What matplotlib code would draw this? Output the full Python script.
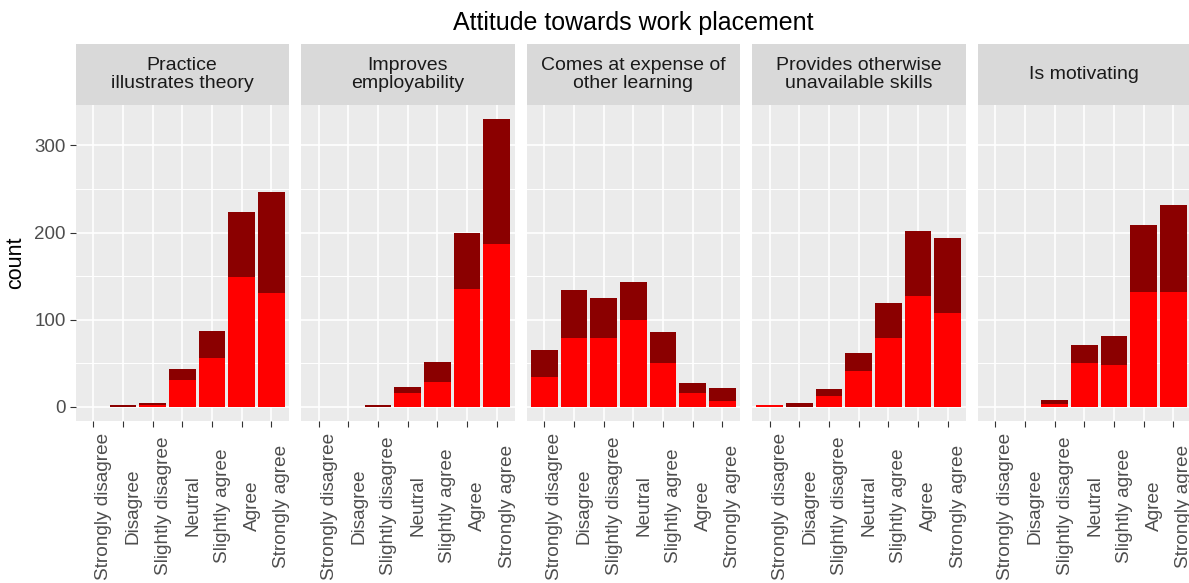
import numpy as np
import matplotlib.pyplot as plt
from matplotlib import transforms

plt.rcParams['font.family'] = ['Liberation Sans', 'DejaVu Sans']

categories = ["Strongly disagree", "Disagree", "Slightly disagree", "Neutral",
              "Slightly agree", "Agree", "Strongly agree"]
facets = ["Practice\nillustrates theory", "Improves\nemployability",
          "Comes at expense of\nother learning", "Provides otherwise\nunavailable skills",
          "Is motivating"]

# lower (red) part of each stacked bar
red_counts = [
    [0, 0, 2, 31, 56, 149, 131],
    [0, 0, 0, 16, 28, 135, 187],
    [34, 79, 79, 100, 50, 16, 6],
    [2, 0, 12, 41, 79, 127, 107],
    [0, 0, 3, 50, 48, 132, 132],
]
# upper (dark red) part of each stacked bar
darkred_counts = [
    [0, 2, 2, 12, 31, 75, 115],
    [0, 0, 2, 6, 23, 65, 143],
    [31, 55, 46, 43, 36, 11, 15],
    [0, 4, 8, 21, 40, 75, 87],
    [0, 0, 5, 21, 33, 77, 100],
]

W, H = 1189, 583
fig = plt.figure(figsize=(W / 100, H / 100), dpi=100)

panel_left0 = 75.5
panel_step = 225.5
panel_w = 213.5
strip_top, strip_bot, panel_bot = 44, 105, 421

tot_max = max(np.max(np.array(r) + np.array(d)) for r, d in zip(red_counts, darkred_counts))
ylim = (-0.05 * tot_max, 1.05 * tot_max)
x = np.arange(len(categories))

for k, name in enumerate(facets):
    left = panel_left0 + k * panel_step
    ax = fig.add_axes([left / W, 1 - panel_bot / H, panel_w / W, (panel_bot - strip_bot) / H])
    ax.set_facecolor('#EBEBEB')
    for s in ax.spines.values():
        s.set_visible(False)

    red = np.array(red_counts[k])
    dark = np.array(darkred_counts[k])
    ax.bar(x, red, width=0.9, color='#FF0000', zorder=3)
    ax.bar(x, dark, bottom=red, width=0.9, color='#8B0000', zorder=3)

    ax.set_xlim(-0.6, len(categories) - 0.4)
    ax.set_ylim(*ylim)
    ax.set_yticks([0, 100, 200, 300])
    ax.set_yticks([50, 150, 250], minor=True)
    ax.set_xticks(x)
    ax.set_xticklabels([])
    ax.grid(which='major', color='white', linewidth=1.2, zorder=0)
    ax.grid(which='minor', axis='y', color='white', linewidth=0.7, zorder=0)
    ax.set_axisbelow(True)
    ax.tick_params(axis='x', length=4, width=0.8, color='#333333')
    ax.tick_params(axis='y', which='minor', length=0)
    if k == 0:
        ax.tick_params(axis='y', length=4, width=0.8, color='#333333',
                       labelsize=13.5, labelcolor='#4D4D4D', pad=3)
        ax.set_ylabel('count', fontsize=15.5, color='black', labelpad=6)
    else:
        ax.tick_params(axis='y', length=0, labelleft=False)

    # rotated category labels, left edge on the tick, centred on a common line
    trans = transforms.blended_transform_factory(ax.transData, fig.transFigure)
    trans = trans + transforms.ScaledTranslation(2 / 100, 0, fig.dpi_scale_trans)
    for xi, lab in zip(x, categories):
        ax.text(xi, 1 - 506 / H, lab, transform=trans, rotation=90,
                ha='left', va='center', fontsize=13.7, color='#4D4D4D', clip_on=False)

    # facet strip
    sax = fig.add_axes([left / W, 1 - strip_bot / H, panel_w / W, (strip_bot - strip_top) / H])
    sax.set_facecolor('#D9D9D9')
    sax.set_xticks([])
    sax.set_yticks([])
    for s in sax.spines.values():
        s.set_visible(False)
    sax.text(0.5, 0.5, name, transform=sax.transAxes, ha='center', va='center',
             fontsize=14, color='#1A1A1A', linespacing=1.0)

fig.text((panel_left0 + (panel_left0 + 4 * panel_step + panel_w)) / 2 / W, 1 - 23 / H,
         'Attitude towards work placement', ha='center', va='center',
         fontsize=18, color='black')

fig.savefig('out.png', dpi=100)
